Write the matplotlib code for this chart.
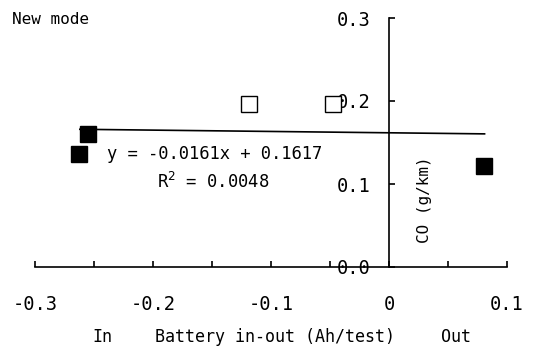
import matplotlib
matplotlib.use("Agg")
import matplotlib.pyplot as plt
import numpy as np

# data
filled_x = [-0.263, -0.255, 0.0805]
filled_y = [0.136, 0.160, 0.122]
open_x = [-0.1186, -0.0475]
open_y = [0.196, 0.196]

slope = -0.0161
intercept = 0.1617
r2 = 0.0048
fit_range = [-0.262, 0.081]

xticks = [-0.3, -0.2, -0.1, 0.0, 0.1]
xtick_labels = ["-0.3", "-0.2", "-0.1", "0", "0.1"]
xminor = [-0.25, -0.15, -0.05, 0.05]
yticks = [0.0, 0.1, 0.2, 0.3]
ytick_labels = ["0.0", "0.1", "0.2", "0.3"]

mono = "DejaVu Sans Mono"
plt.rcParams["font.family"] = mono

fig = plt.figure(figsize=(5.36, 3.49), dpi=100)
ax = fig.add_axes([35/536, 82/349, 472/536, 249/349])
ax.set_xlim(-0.3, 0.1)
ax.set_ylim(0.0, 0.3)

# fitted line
fx = np.array(fit_range)
ax.plot(fx, slope*fx + intercept, color="black", lw=1.2, zorder=2, clip_on=False)

ax.plot(open_x, open_y, ls="none", marker="s", ms=11, mfc="white",
        mec="black", mew=1.0, zorder=3, clip_on=False)
ax.plot(filled_x, filled_y, ls="none", marker="s", ms=11.5, mfc="black",
        mec="black", zorder=4, clip_on=False)

# spines crossing at (0, 0)
ax.spines["top"].set_visible(False)
ax.spines["right"].set_visible(False)
ax.spines["left"].set_position(("data", 0.0))
ax.spines["bottom"].set_position(("data", 0.0))
ax.spines["left"].set_linewidth(1.2)
ax.spines["bottom"].set_linewidth(1.2)

ax.set_xticks(xticks)
ax.set_xticklabels(xtick_labels)
ax.set_xticks(xminor, minor=True)
ax.set_yticks(yticks)
ax.set_yticklabels(ytick_labels)

ax.tick_params(axis="x", which="both", direction="in", length=4, width=1.2,
               labelsize=13.5, pad=20)
ax.tick_params(axis="y", which="major", direction="in", length=4, width=1.2,
               labelsize=13.5, pad=13)

ax.text(-0.148, 0.136, "y = %.4fx + %.4f" % (slope, intercept), fontsize=12.3,
        ha="center", va="center")
ax.text(-0.149, 0.102, "R$^2$ = %.4f" % r2, fontsize=12.3,
        ha="center", va="center")

fig.text(12/536, 1 - 19/349, "New mode", fontsize=11.5, ha="left", va="center")
fig.text(425/536, 1 - 200/349, "CO (g/km)", fontsize=11.5, rotation=90,
         ha="center", va="center")
fig.text(102/536, 1 - 337/349, "In", fontsize=12, ha="center", va="center")
fig.text(275/536, 1 - 337/349, "Battery in-out (Ah/test)", fontsize=12,
         ha="center", va="center")
fig.text(456/536, 1 - 337/349, "Out", fontsize=12, ha="center", va="center")

fig.savefig("out.png", dpi=100)
